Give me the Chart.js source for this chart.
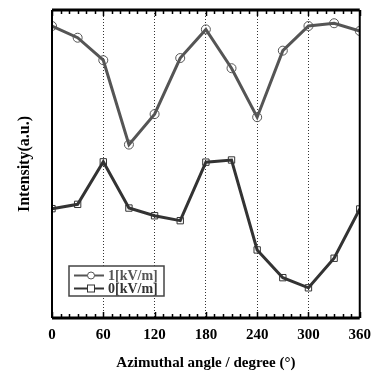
<!DOCTYPE html>
<html>
<head>
<meta charset="utf-8">
<script src="https://cdn.jsdelivr.net/npm/chart.js@4.4.0/dist/chart.umd.min.js"></script>
<style>
  html, body { margin: 0; padding: 0; background: #fff; }
  #wrap { width: 379px; height: 374px; }
</style>
</head>
<body>
<div id="wrap"><canvas id="chart" width="379" height="374"></canvas></div>
<script>
// angles in degrees
const angles = [0, 30, 60, 90, 120, 150, 180, 210, 240, 270, 300, 330, 360];
// intensity (a.u.)
const field1 = [94.8, 91.0, 83.7, 56.3, 66.2, 84.4, 93.7, 81.1, 65.2, 86.8, 94.8, 95.7, 93.2];
const field0 = [35.5, 36.9, 50.7, 35.7, 33.2, 31.6, 50.6, 51.3, 22.1, 13.1, 9.8, 19.4, 35.4];
const labels = ["1[kV/m]", "0[kV/m]"];

const serif = "'Liberation Serif', 'Times New Roman', serif";

// inward minor ticks on top & bottom, plus the legend box
const frame = {
  id: "frame",
  afterDraw(chart) {
    const ctx = chart.ctx;
    const a = chart.chartArea;
    const x = chart.scales.x;
    ctx.save();
    ctx.strokeStyle = "#000";
    ctx.lineWidth = 1.5;
    for (let d = 0; d <= 360; d += 10) {
      const px = Math.round(x.getPixelForValue(d)) + 0.5;
      const len = d % 60 === 0 ? 6 : 4;
      ctx.beginPath();
      ctx.moveTo(px, a.bottom);
      ctx.lineTo(px, a.bottom - len);
      ctx.moveTo(px, a.top);
      ctx.lineTo(px, a.top + len);
      ctx.stroke();
    }
    // frame
    ctx.lineWidth = 3;
    ctx.beginPath();
    ctx.moveTo(a.left, a.top);
    ctx.lineTo(a.right, a.top);
    ctx.moveTo(a.left, a.bottom);
    ctx.lineTo(a.right, a.bottom);
    ctx.stroke();
    ctx.lineWidth = 2;
    ctx.beginPath();
    ctx.moveTo(a.left, a.top);
    ctx.lineTo(a.left, a.bottom);
    ctx.moveTo(a.right, a.top);
    ctx.lineTo(a.right, a.bottom);
    ctx.stroke();

    // legend
    const bx = a.left + 17, by = a.bottom - 52, bw = 95, bh = 30;
    ctx.fillStyle = "#fff";
    ctx.fillRect(bx, by, bw, bh);
    ctx.strokeStyle = "#444";
    ctx.lineWidth = 1.5;
    ctx.strokeRect(bx, by, bw, bh);
    ctx.font = "bold 14px " + serif;
    ctx.textBaseline = "middle";
    chart.data.datasets.forEach((ds, i) => {
      const y = by + 9.5 + i * 13;
      ctx.strokeStyle = ds.borderColor;
      ctx.lineWidth = 2;
      ctx.beginPath();
      ctx.moveTo(bx + 5, y);
      ctx.lineTo(bx + 35, y);
      ctx.stroke();
      ctx.lineWidth = 1;
      ctx.fillStyle = "#fff";
      if (ds.pointStyle === "rect") {
        ctx.fillRect(bx + 18, y - 4, 8, 8);
        ctx.strokeRect(bx + 18.5, y - 3.5, 7, 7);
      } else {
        ctx.beginPath();
        ctx.arc(bx + 22, y, 3.5, 0, Math.PI * 2);
        ctx.fill();
        ctx.stroke();
      }
      ctx.fillStyle = ds.borderColor;
      ctx.fillText(ds.label, bx + 39, y + 1);
    });
    ctx.restore();
  }
};

new Chart(document.getElementById("chart"), {
  type: "line",
  data: {
    labels: angles,
    datasets: [
      {
        label: labels[0],
        data: angles.map((a, i) => ({ x: a, y: field1[i] })),
        borderColor: "#555",
        borderWidth: 3,
        pointStyle: "circle",
        pointRadius: 4.5,
        pointBorderWidth: 1,
        pointBorderColor: "#555",
        pointBackgroundColor: "rgba(255,255,255,0)",
        tension: 0
      },
      {
        label: labels[1],
        data: angles.map((a, i) => ({ x: a, y: field0[i] })),
        borderColor: "#333",
        borderWidth: 3,
        pointStyle: "rect",
        pointRadius: 4.5,
        pointBorderWidth: 1,
        pointBorderColor: "#333",
        pointBackgroundColor: "rgba(255,255,255,0)",
        tension: 0
      }
    ]
  },
  options: {
    responsive: false,
    animation: false,
    layout: { padding: { top: 10, right: 17, left: 0, bottom: 0 } },
    plugins: { legend: { display: false }, tooltip: { enabled: false } },
    scales: {
      x: {
        type: "linear",
        min: 0,
        max: 360,
        afterFit: (s) => { s.height = 56; },
        ticks: {
          stepSize: 60,
          color: "#000",
          padding: 8,
          font: { family: serif, size: 15, weight: "bold" }
        },
        grid: {
          color: (c) => (c.tick && (c.tick.value === 0 || c.tick.value === 360)) ? "rgba(0,0,0,0)" : "#333",
          lineWidth: 1,
          drawTicks: false
        },
        border: { display: false, dash: [1, 2] },
        title: {
          display: true,
          text: "Azimuthal angle / degree (°)",
          color: "#000",
          padding: { top: 4, bottom: 2 },
          font: { family: serif, size: 15, weight: "bold" }
        }
      },
      y: {
        min: 0,
        max: 100,
        afterFit: (s) => { s.width = 52; },
        ticks: { display: false },
        grid: { display: false },
        border: { display: false },
        title: {
          display: true,
          text: "Intensity(a.u.)",
          color: "#000",
          padding: { top: 15, bottom: 0 },
          font: { family: serif, size: 16, weight: "bold" }
        }
      }
    }
  },
  plugins: [frame]
});
</script>
</body>
</html>
